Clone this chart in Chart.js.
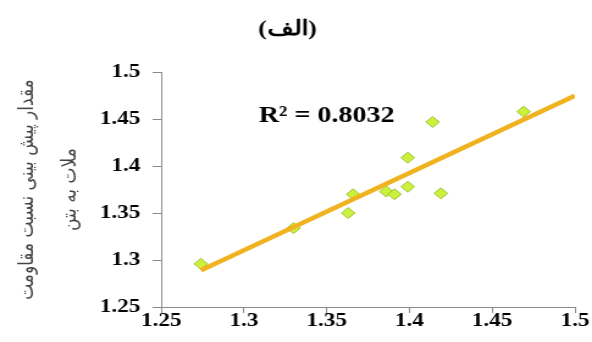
<!DOCTYPE html>
<html>
<head>
<meta charset="utf-8">
<script src="https://cdn.jsdelivr.net/npm/chart.js@4"></script>
<style>
	html, body { margin: 0; padding: 0; background: #fff; }
</style>
</head>
<body>
<canvas id="chart" width="485" height="342" style="display:block;width:592px;height:342px"></canvas>
<script>
'use strict';

const measured = [1.274, 1.330, 1.363, 1.366, 1.386, 1.391, 1.399, 1.399, 1.414, 1.419, 1.469];
const predicted = [1.296, 1.334, 1.350, 1.370, 1.373, 1.370, 1.378, 1.409, 1.447, 1.371, 1.458];

// Trend line end points as drawn
const trendX = [1.274, 1.5];
const trendY = [1.289, 1.475];

const xTicks = [1.25, 1.3, 1.35, 1.4, 1.45, 1.5];
const yTicks = [1.25, 1.3, 1.35, 1.4, 1.45, 1.5];

const chartTitle = '(الف)';
const yTitle = ['مقدار پیش بینی نسبت مقاومت', 'ملات به بتن'];
const r2Label = 'R² = 0.8032';
const r2At = [1.35, 1.453];

const serif = "'Times New Roman', 'Liberation Serif', serif";
const arabic = "'DejaVu Sans', sans-serif";

let points = [];
for (let i = 0; i < measured.length; ++i) {
	points.push({ x: measured[i], y: predicted[i] });
}

let trend = [];
for (let i = 0; i < trendX.length; ++i) {
	trend.push({ x: trendX[i], y: trendY[i] });
}

// Writes the R² value inside the plot
const r2Plugin = {
	id: 'r2Text',
	afterDatasetsDraw(chart) {
		const ctx = chart.ctx;
		const x = chart.scales.x.getPixelForValue(r2At[0]);
		const y = chart.scales.y.getPixelForValue(r2At[1]);
		ctx.save();
		ctx.font = 'bold 23px ' + serif;
		ctx.fillStyle = '#000';
		ctx.textAlign = 'center';
		ctx.textBaseline = 'middle';
		ctx.fillText(r2Label, x, y);
		ctx.restore();
	}
};

const axisGrey = '#8a8a8a';

new Chart(document.getElementById('chart'), {
	type: 'scatter',
	data: {
		datasets: [
			{
				data: trend,
				showLine: true,
				borderColor: '#f0b21e',
				borderWidth: 4.5,
				pointRadius: 0,
				fill: false
			},
			{
				data: points,
				pointStyle: 'rectRot',
				pointRadius: 5.5,
				backgroundColor: '#cdf03a',
				borderColor: '#98c23c',
				borderWidth: 1
			}
		]
	},
	options: {
		responsive: false,
		animation: false,
		events: [],
		layout: { padding: { left: 0, right: 14, top: 0, bottom: 0 } },
		plugins: {
			legend: { display: false },
			tooltip: { enabled: false },
			title: {
				display: true,
				text: chartTitle,
				color: '#000',
				font: { family: serif, size: 21, weight: 'bold', lineHeight: 1.2 },
				padding: { top: 17, bottom: 30 }
			}
		},
		scales: {
			x: {
				type: 'linear',
				min: 1.25,
				max: 1.5,
				afterBuildTicks: s => { s.ticks = xTicks.map(v => ({ value: v })); },
				afterFit: s => { s.height = 35; },
				grid: {
					drawOnChartArea: false,
					drawTicks: true,
					tickLength: 6,
					color: axisGrey
				},
				border: { display: true, color: axisGrey, width: 1 },
				ticks: {
					color: '#000',
					padding: -1,
					font: { family: serif, size: 19, weight: 'bold', lineHeight: 1 },
					callback: v => String(v)
				}
			},
			y: {
				type: 'linear',
				min: 1.25,
				max: 1.5,
				afterBuildTicks: s => { s.ticks = yTicks.map(v => ({ value: v })); },
				afterFit: s => { s.width = 132; },
				grid: {
					drawOnChartArea: false,
					drawTicks: true,
					tickLength: 7,
					color: axisGrey
				},
				border: { display: true, color: axisGrey, width: 1 },
				ticks: {
					color: '#000',
					padding: 10,
					font: { family: serif, size: 19, weight: 'bold' },
					callback: v => String(v)
				},
				title: {
					display: true,
					text: yTitle,
					color: '#444',
					font: { family: arabic, size: 17, lineHeight: 2.05 },
					padding: { top: 5, bottom: 0 }
				}
			}
		}
	},
	plugins: [r2Plugin]
});
</script>
</body>
</html>
